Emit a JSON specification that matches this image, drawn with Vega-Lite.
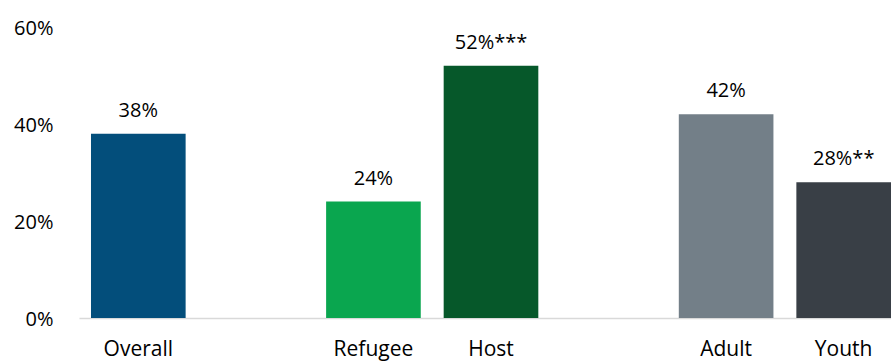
{
  "$schema": "https://vega.github.io/schema/vega-lite/v6.json",
  "width": 812,
  "height": 291,
  "autosize": {"type": "none"},
  "padding": {"left": 79, "top": 27, "right": 0, "bottom": 44},
  "background": "white",
  "config": {"view": {"stroke": null}, "font": "Open Sans"},
  "data": {
    "values": [
      {"group": "Overall", "value": 38, "label": "38%", "color": "#034E7B"},
      {"group": "Refugee", "value": 24, "label": "24%", "color": "#0AA64F"},
      {"group": "Host", "value": 52, "label": "52%***", "color": "#06582A"},
      {"group": "Adult", "value": 42, "label": "42%", "color": "#737F88"},
      {"group": "Youth", "value": 28, "label": "28%**", "color": "#393F46"}
    ]
  },
  "encoding": {
    "x": {
      "field": "group",
      "type": "nominal",
      "sort": null,
      "scale": {
        "domain": ["Overall", " ", "Refugee", "Host", "  ", "Adult", "Youth"],
        "paddingInner": 0.195,
        "paddingOuter": 0.051,
        "align": 1
      },
      "axis": {
        "title": null,
        "labelAngle": 0,
        "ticks": false,
        "domain": true,
        "domainColor": "#d9d9d9",
        "domainWidth": 1.5,
        "labelFontSize": 21,
        "labelColor": "#000000",
        "labelPadding": 20,
        "labelBaseline": "top"
      }
    },
    "y": {
      "field": "value",
      "type": "quantitative",
      "scale": {"domain": [0, 60]},
      "axis": {
        "title": null,
        "values": [0, 20, 40, 60],
        "labelExpr": "datum.value + '%'",
        "grid": false,
        "ticks": false,
        "domain": false,
        "labelFontSize": 20,
        "labelColor": "#000000",
        "labelPadding": 26,
        "labelOffset": 1
      }
    }
  },
  "layer": [
    {
      "mark": {"type": "bar"},
      "encoding": {"color": {"field": "color", "type": "nominal", "scale": null}}
    },
    {
      "mark": {"type": "text", "baseline": "alphabetic", "dy": -17, "fontSize": 20, "color": "#000000"},
      "encoding": {"text": {"field": "label"}}
    }
  ]
}
